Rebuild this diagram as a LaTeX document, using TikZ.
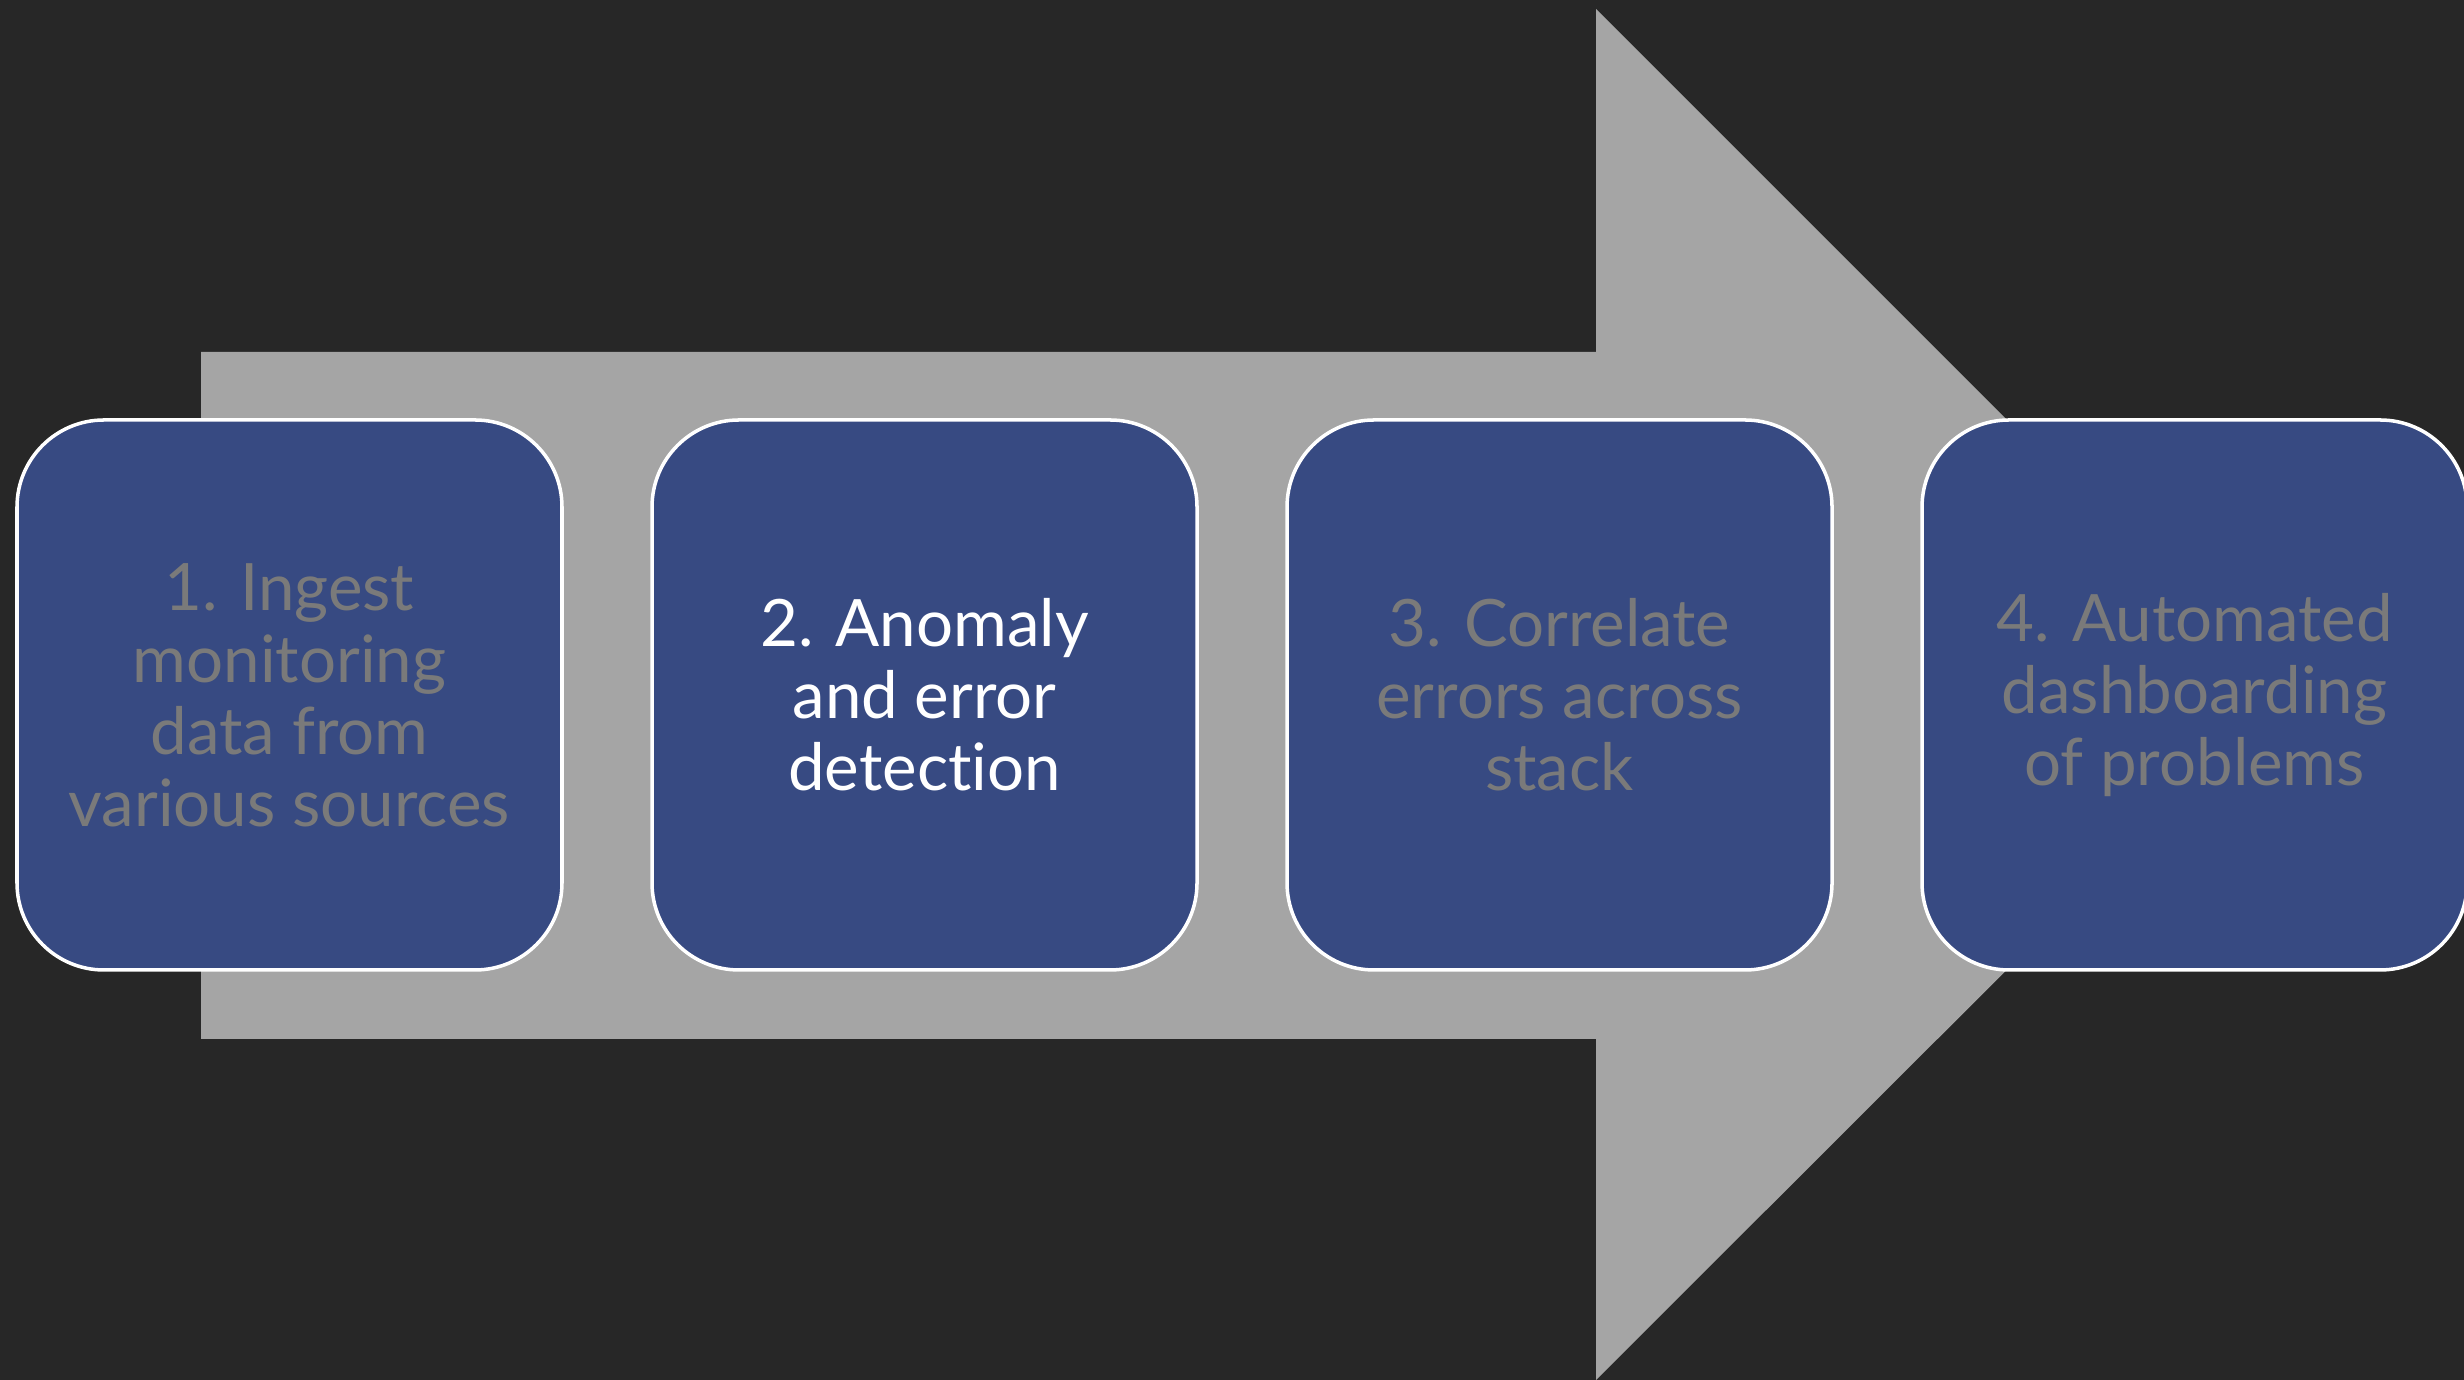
\documentclass[tikz,border=0pt]{standalone}
\usepackage{fontspec}
\setmainfont[Ligatures=NoCommon]{Lato}
\usetikzlibrary{positioning}

\definecolor{bgdark}{HTML}{272727}
\definecolor{arrowgray}{HTML}{A5A5A5}
\definecolor{boxblue}{HTML}{374A82}
\definecolor{textgray}{HTML}{7A7A7A}

\tikzset{
    stepbox/.style = {draw=white, line width=1pt, fill=boxblue, rounded corners=0.87cm,
        minimum width=5.45cm, minimum height=5.5cm, align=center, inner sep=0pt,
        text=textgray, font=\fontsize{18.6}{20.5}\selectfont},
    current/.style = {text=white}
}

\begin{document}
\begin{tikzpicture}

    % Background
    \fill[bgdark] (0,0) rectangle (24.64,13.80);
    \useasboundingbox (0,0) rectangle (24.64,13.80);

    % Big arrow
    \fill[arrowgray] (2.01,3.41) -- (2.01,10.28) -- (15.96,10.28) -- (15.96,13.71)
        -- (22.82,6.85) -- (15.96,0) -- (15.96,3.41) -- cycle;

    % Steps
    \node[stepbox] (ingest) at (2.895,6.85) {1. Ingest\\monitoring\\data from\\various sources};
    \node[stepbox, current, right=0.865cm of ingest] (detect) {2. Anomaly\\and error\\detection};
    \node[stepbox, right=0.865cm of detect] (correlate) {3. Correlate\\errors across\\stack};
    \node[stepbox, right=0.865cm of correlate] (dashboard) {4. Automated\\dashboarding\\of problems};

\end{tikzpicture}
\end{document}
